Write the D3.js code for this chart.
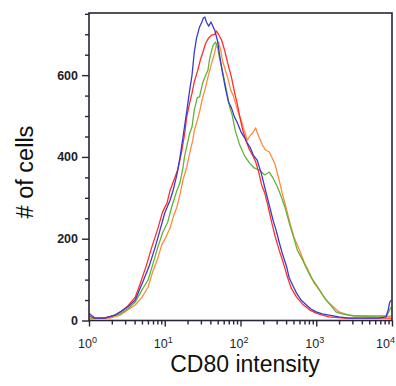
<!DOCTYPE html>
<html>
<head>
<meta charset="utf-8">
<script src="https://cdn.jsdelivr.net/npm/d3@7"></script>
<style>
  body { margin: 0; background: #fff; }
  text { font-family: Arial, "Liberation Sans", sans-serif; }
</style>
</head>
<body>
<div id="chart"></div>
<script>
// histogram data: [log10 CD80 intensity, # of cells]
const blueSeries = [[0.00,18],[0.03,13],[0.08,6],[0.21,6],[0.34,13],[0.43,23],[0.51,33],[0.61,50],[0.71,94],[0.80,136],[0.87,177],[0.93,216],[1.00,263],[1.07,294],[1.11,318],[1.16,356],[1.20,397],[1.25,460],[1.29,511],[1.33,564],[1.36,600],[1.39,656],[1.42,691],[1.46,718],[1.49,730],[1.51,740],[1.53,742],[1.55,730],[1.58,720],[1.61,730],[1.63,722],[1.66,710],[1.70,681],[1.72,654],[1.76,608],[1.80,569],[1.84,535],[1.88,520],[1.92,498],[1.96,483],[2.01,460],[2.05,448],[2.09,434],[2.13,422],[2.17,404],[2.22,392],[2.28,356],[2.33,318],[2.38,282],[2.43,245],[2.47,221],[2.51,192],[2.55,165],[2.61,131],[2.64,106],[2.70,82],[2.74,67],[2.80,50],[2.87,38],[2.93,28],[3.00,21],[3.08,16],[3.17,13],[3.30,9],[3.43,6],[3.63,6],[3.83,6],[3.92,9],[3.95,26],[3.97,45],[3.99,50]];
const redSeries = [[0.00,11],[0.08,6],[0.21,6],[0.34,13],[0.43,23],[0.51,35],[0.61,57],[0.67,87],[0.76,136],[0.83,180],[0.91,226],[0.97,265],[1.03,287],[1.07,318],[1.12,343],[1.17,368],[1.22,410],[1.26,453],[1.29,498],[1.33,533],[1.36,556],[1.39,584],[1.43,608],[1.47,637],[1.50,654],[1.54,678],[1.58,691],[1.62,698],[1.66,700],[1.68,708],[1.71,700],[1.75,686],[1.79,661],[1.83,630],[1.88,595],[1.92,559],[1.96,528],[1.99,498],[2.03,465],[2.08,436],[2.12,417],[2.16,404],[2.20,388],[2.24,363],[2.28,331],[2.32,312],[2.36,282],[2.41,241],[2.46,204],[2.51,172],[2.57,138],[2.62,106],[2.67,79],[2.74,57],[2.82,40],[2.91,26],[3.00,18],[3.08,13],[3.17,9],[3.37,6],[3.70,6],[3.99,6]];
const greenSeries = [[0.00,6],[0.14,6],[0.28,9],[0.41,16],[0.51,28],[0.61,45],[0.70,75],[0.78,99],[0.84,136],[0.91,180],[0.97,214],[1.04,241],[1.09,277],[1.16,318],[1.20,336],[1.24,373],[1.26,400],[1.30,434],[1.33,458],[1.36,473],[1.39,515],[1.43,545],[1.46,547],[1.50,581],[1.54,600],[1.57,612],[1.59,637],[1.62,661],[1.64,674],[1.67,681],[1.70,666],[1.72,644],[1.76,612],[1.82,558],[1.86,520],[1.89,503],[1.93,465],[1.99,429],[2.05,404],[2.12,385],[2.18,373],[2.25,368],[2.32,356],[2.38,363],[2.43,348],[2.49,326],[2.54,302],[2.59,275],[2.64,241],[2.70,204],[2.75,172],[2.82,148],[2.87,128],[2.93,106],[3.00,87],[3.07,67],[3.13,50],[3.20,35],[3.26,21],[3.34,16],[3.50,11],[3.76,11],[3.93,11],[3.97,26],[3.99,33]];
const orangeSeries = [[0.00,4],[0.14,6],[0.28,6],[0.41,13],[0.51,26],[0.61,38],[0.70,57],[0.78,82],[0.84,119],[0.91,153],[0.96,185],[1.01,202],[1.07,226],[1.12,258],[1.16,277],[1.20,307],[1.24,343],[1.29,375],[1.33,410],[1.37,441],[1.39,465],[1.42,483],[1.46,511],[1.50,545],[1.53,564],[1.57,595],[1.62,630],[1.66,656],[1.68,674],[1.71,681],[1.74,661],[1.76,637],[1.80,612],[1.83,595],[1.87,564],[1.91,547],[1.96,515],[2.01,489],[2.05,465],[2.09,441],[2.13,453],[2.16,458],[2.20,471],[2.22,460],[2.25,446],[2.29,429],[2.33,417],[2.38,412],[2.42,397],[2.46,380],[2.51,343],[2.55,312],[2.61,270],[2.66,233],[2.71,202],[2.78,172],[2.84,143],[2.91,116],[2.97,92],[3.04,75],[3.11,55],[3.17,43],[3.24,31],[3.30,21],[3.43,13],[3.70,9],[3.89,9],[3.99,11]];

const seriesColors = ['#ff8a3c', '#62b23a', '#ff2d2d', '#3b3bc8'];
const yMajorTicks = [0, 200, 400, 600];
const yMinorTicks = [50, 100, 150, 250, 300, 350, 450, 500, 550, 650, 700, 750];
const xDecades = [0, 1, 2, 3, 4];

const W = 396, H = 386;
const margin = { top: 13, right: 4, bottom: 65.5, left: 89 };
const frameColor = '#26263a';

const svg = d3.select('#chart').append('svg')
  .attr('width', W)
  .attr('height', H);

const x = d3.scaleLog().domain([1, 1e4]).range([margin.left, W - margin.right]);
const y = d3.scaleLinear().domain([0, 752]).range([H - margin.bottom, margin.top]);

svg.append('clipPath').attr('id', 'plot-clip')
  .append('rect')
  .attr('x', x(1)).attr('y', y(752))
  .attr('width', x(1e4) - x(1)).attr('height', y(0) - y(752));

// histogram lines
const line = d3.line()
  .x(d => x(Math.pow(10, d[0])))
  .y(d => y(d[1]));

const lines = svg.append('g').attr('clip-path', 'url(#plot-clip)');
[orangeSeries, greenSeries, redSeries, blueSeries].forEach((s, i) => {
  lines.append('path')
    .datum(s)
    .attr('fill', 'none')
    .attr('stroke', seriesColors[i])
    .attr('stroke-width', 1.3)
    .attr('stroke-linejoin', 'round')
    .attr('d', line);
});

// frame
svg.append('rect')
  .attr('x', x(1)).attr('y', y(752))
  .attr('width', x(1e4) - x(1)).attr('height', y(0) - y(752))
  .attr('fill', 'none')
  .attr('stroke', frameColor)
  .attr('stroke-width', 1.6);

// y axis
const yAxisMinor = svg.append('g')
  .attr('transform', `translate(${x(1)},0)`)
  .call(d3.axisLeft(y).tickValues(yMinorTicks).tickSize(4).tickFormat(''));
const yAxis = svg.append('g')
  .attr('transform', `translate(${x(1)},0)`)
  .call(d3.axisLeft(y).tickValues(yMajorTicks).tickSize(7).tickPadding(4).tickFormat(d3.format('d')));
[yAxis, yAxisMinor].forEach(g => {
  g.select('.domain').remove();
  g.selectAll('line').attr('stroke', frameColor).attr('stroke-width', 1.4);
});
yAxis.selectAll('text')
  .attr('fill', '#1e1e2a')
  .style('font-size', '12.5px')
  .style('font-weight', 'bold');

// x axis
const xMinorTicks = [];
xDecades.slice(0, -1).forEach(k => {
  for (let m = 2; m <= 9; m++) xMinorTicks.push(m * Math.pow(10, k));
});
const xAxisMinor = svg.append('g')
  .attr('transform', `translate(0,${y(0)})`)
  .call(d3.axisBottom(x).tickValues(xMinorTicks).tickSize(4).tickFormat(''));
const xAxis = svg.append('g')
  .attr('transform', `translate(0,${y(0)})`)
  .call(d3.axisBottom(x).tickValues(xDecades.map(k => Math.pow(10, k))).tickSize(6).tickFormat(''));
[xAxis, xAxisMinor].forEach(g => {
  g.select('.domain').remove();
  g.selectAll('line').attr('stroke', frameColor).attr('stroke-width', 1.4);
});

// decade labels 10^k (the last one is pulled in so it stays inside the page)
const xLabels = svg.append('g');
xDecades.forEach(k => {
  const px = Math.min(x(Math.pow(10, k)) - 11, W - 20);
  const t = xLabels.append('text')
    .attr('x', px)
    .attr('y', y(0) + 27.5)
    .attr('fill', '#1e1e2a')
    .style('font-size', '12.5px');
  t.append('tspan').text('10');
  t.append('tspan').attr('dy', -5).style('font-size', '9px').text(k);
});

// axis titles
svg.append('text')
  .attr('x', 245)
  .attr('y', 372)
  .attr('text-anchor', 'middle')
  .attr('fill', '#111')
  .style('font-size', '23px')
  .text('CD80 intensity');

svg.append('text')
  .attr('transform', 'translate(33,172) rotate(-90)')
  .attr('text-anchor', 'middle')
  .attr('fill', '#111')
  .style('font-size', '23.5px')
  .text('# of cells');
</script>
</body>
</html>
